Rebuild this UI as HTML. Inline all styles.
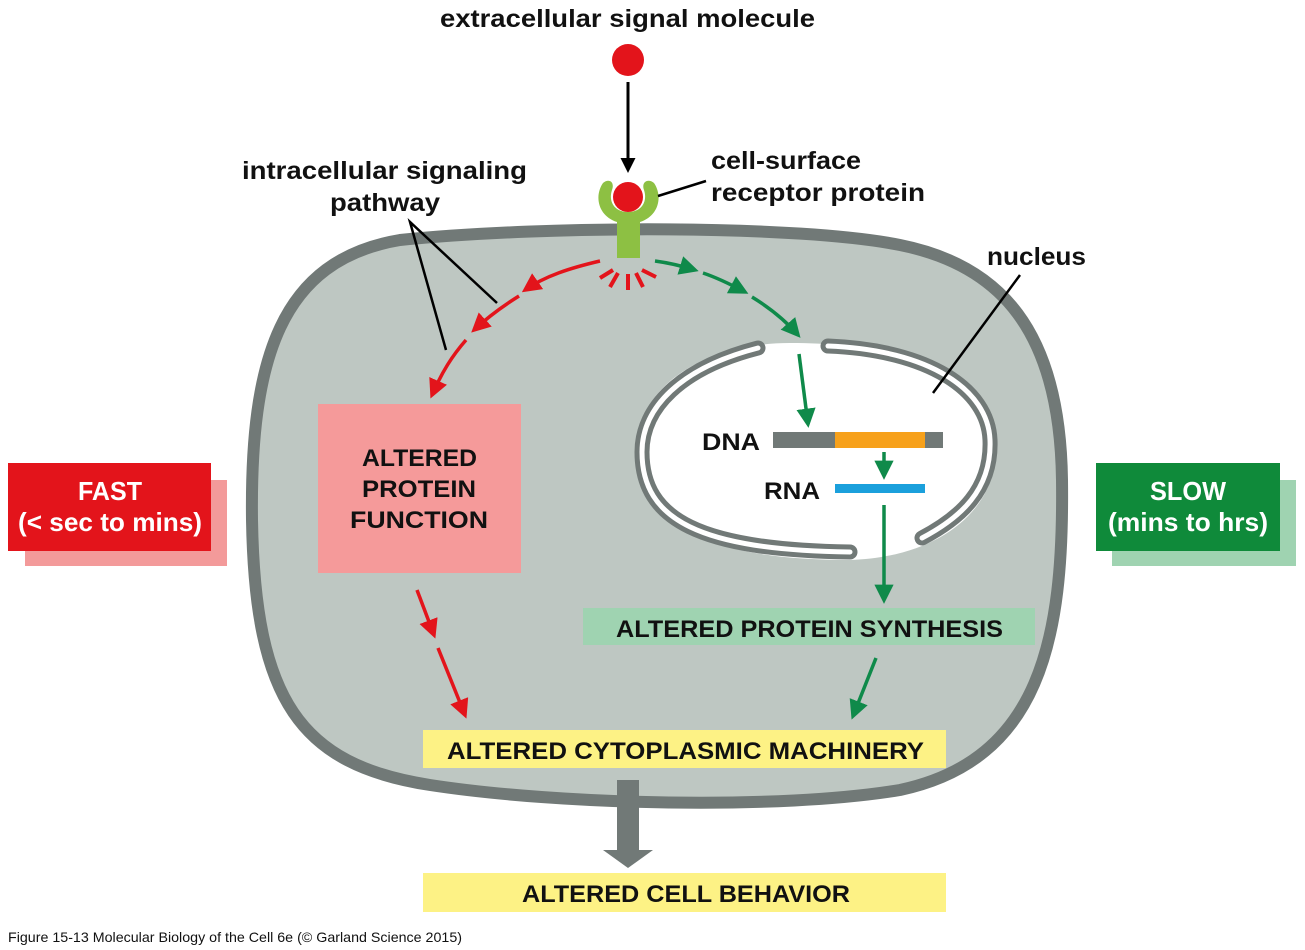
<!DOCTYPE html>
<html><head><style>
body{margin:0;background:#fff;}
svg{display:block;font-family:"Liberation Sans",sans-serif;font-weight:bold;}
</style></head><body>
<svg width="1305" height="950" viewBox="0 0 1305 950">
<defs>
<marker id="ar" viewBox="0 0 10 10" refX="8" refY="5" markerWidth="5.5" markerHeight="5.5" orient="auto"><path d="M0,0 L10,5 L0,10 z" fill="#e3141b"/></marker>
<marker id="ag" viewBox="0 0 10 10" refX="8" refY="5" markerWidth="5.5" markerHeight="5.5" orient="auto"><path d="M0,0 L10,5 L0,10 z" fill="#0f8a4a"/></marker>
<marker id="ak" viewBox="0 0 10 10" refX="8" refY="5" markerWidth="5" markerHeight="5" orient="auto"><path d="M0,0 L10,5 L0,10 z" fill="#000"/></marker>
</defs>
<rect x="25" y="480" width="202" height="86" fill="#f39a9a"/>
<rect x="8" y="463" width="203" height="88" fill="#e3141b"/>
<text x="78" y="500" textLength="64" lengthAdjust="spacingAndGlyphs" font-size="26" fill="#fff">FAST</text>
<text x="18" y="531" textLength="184" lengthAdjust="spacingAndGlyphs" font-size="26" fill="#fff">(&lt; sec to mins)</text>
<rect x="1112" y="480" width="184" height="86" fill="#9fd3b1"/>
<rect x="1096" y="463" width="184" height="88" fill="#0f8a3a"/>
<text x="1150" y="500" textLength="76" lengthAdjust="spacingAndGlyphs" font-size="26" fill="#fff">SLOW</text>
<text x="1108" y="531" textLength="160" lengthAdjust="spacingAndGlyphs" font-size="26" fill="#fff">(mins to hrs)</text>
<path d="M 400,240 C 550,225 800,225 900,245 C 1000,265 1060,330 1062,480 C 1064,640 1040,760 900,790 C 780,810 560,805 430,785 C 300,765 255,700 252,520 C 250,360 280,260 400,240 Z" fill="#bec7c2" stroke="#717977" stroke-width="12"/>
<path d="M 790,343 C 930,343 997,390 997,445 C 997,510 940,557 850,560 C 700,560 636,520 636,450 C 636,390 700,343 790,343 Z" fill="#fff"/>
<g fill="none" stroke-linecap="round">
<path d="M 758,348 C 680,368 642,408 642,452 C 642,520 700,550 850,552" stroke="#717977" stroke-width="15"/>
<path d="M 758,348 C 680,368 642,408 642,452 C 642,520 700,550 850,552" stroke="#fff" stroke-width="5"/>
<path d="M 828,346 C 930,350 988,390 990,440 C 992,490 960,518 922,538" stroke="#717977" stroke-width="15"/>
<path d="M 828,346 C 930,350 988,390 990,440 C 992,490 960,518 922,538" stroke="#fff" stroke-width="5"/>
</g>
<rect x="773" y="432" width="170" height="16" fill="#717977"/>
<rect x="835" y="432" width="90" height="16" fill="#f7a11b"/>
<rect x="835" y="484" width="90" height="9" fill="#1ba0dc"/>
<text x="702" y="450" textLength="58" lengthAdjust="spacingAndGlyphs" font-size="24" fill="#111">DNA</text>
<text x="764" y="499" textLength="56" lengthAdjust="spacingAndGlyphs" font-size="24" fill="#111">RNA</text>
<rect x="318" y="404" width="203" height="169" fill="#f59a9a"/>
<text x="362" y="466" textLength="115" lengthAdjust="spacingAndGlyphs" font-size="24" fill="#111">ALTERED</text>
<text x="362" y="497" textLength="114" lengthAdjust="spacingAndGlyphs" font-size="24" fill="#111">PROTEIN</text>
<text x="350" y="528" textLength="138" lengthAdjust="spacingAndGlyphs" font-size="24" fill="#111">FUNCTION</text>
<rect x="583" y="608" width="452" height="37" fill="#9fd3b1"/>
<text x="616" y="637" textLength="387" lengthAdjust="spacingAndGlyphs" font-size="24" fill="#111">ALTERED PROTEIN SYNTHESIS</text>
<rect x="423" y="730" width="523" height="38" fill="#fdf285"/>
<text x="447" y="759" textLength="477" lengthAdjust="spacingAndGlyphs" font-size="24" fill="#111">ALTERED CYTOPLASMIC MACHINERY</text>
<rect x="423" y="873" width="523" height="39" fill="#fdf285"/>
<text x="522" y="902" textLength="328" lengthAdjust="spacingAndGlyphs" font-size="24" fill="#111">ALTERED CELL BEHAVIOR</text>
<rect x="617" y="780" width="22" height="72" fill="#717977"/>
<path d="M 603,850 L 653,850 L 628,868 Z" fill="#717977"/>
<!-- receptor -->
<path d="M 603,183 C 594,196 598,216 617,222 L 617,258 L 640,258 L 640,222 C 659,216 663,196 654,183 C 648,178 641,182 644,190 C 648,202 641,212 628,212 C 615,212 608,202 612,190 C 615,182 609,178 603,183 Z" fill="#8dc043"/>
<circle cx="628" cy="197" r="15" fill="#e3141b"/>
<circle cx="628" cy="60" r="16" fill="#e3141b"/>
<line x1="628" y1="82" x2="628" y2="170" stroke="#000" stroke-width="3" marker-end="url(#ak)"/>
<line x1="658" y1="196" x2="706" y2="181" stroke="#000" stroke-width="2.5"/>
<g stroke="#e3141b" stroke-width="4">
<line x1="613" y1="270" x2="600" y2="278"/><line x1="618" y1="273" x2="610" y2="287"/>
<line x1="628" y1="274" x2="628" y2="290"/><line x1="636" y1="273" x2="643" y2="287"/>
<line x1="642" y1="270" x2="656" y2="277"/>
</g>
<g fill="none" stroke="#e3141b" stroke-width="3.5">
<path d="M 600,261 C 570,268 545,276 525,290" marker-end="url(#ar)"/>
<path d="M 519,296 C 503,306 489,316 474,330" marker-end="url(#ar)"/>
<path d="M 466,340 C 452,356 442,372 432,395" marker-end="url(#ar)"/>
<path d="M 417,590 L 434,635" marker-end="url(#ar)"/>
<path d="M 438,648 L 465,715" marker-end="url(#ar)"/>
</g>
<g fill="none" stroke="#0f8a4a" stroke-width="3.5">
<path d="M 655,261 C 670,263 682,266 695,270" marker-end="url(#ag)"/>
<path d="M 703,273 C 718,278 730,284 745,292" marker-end="url(#ag)"/>
<path d="M 752,297 C 770,308 785,320 798,335" marker-end="url(#ag)"/>
<path d="M 799,354 L 808,424" marker-end="url(#ag)"/>
<path d="M 884,452 L 884,476" marker-end="url(#ag)"/>
<path d="M 884,505 L 884,600" marker-end="url(#ag)"/>
<path d="M 876,658 L 853,716" marker-end="url(#ag)"/>
</g>
<g stroke="#000" stroke-width="2.5" fill="none">
<path d="M 497,303 L 410,222 L 446,350"/>
<line x1="1020" y1="275" x2="933" y2="393"/>
</g>
<text x="440" y="27" textLength="375" lengthAdjust="spacingAndGlyphs" font-size="25" fill="#111">extracellular signal molecule</text>
<text x="711" y="169" textLength="150" lengthAdjust="spacingAndGlyphs" font-size="25" fill="#111">cell-surface</text>
<text x="711" y="201" textLength="214" lengthAdjust="spacingAndGlyphs" font-size="25" fill="#111">receptor protein</text>
<text x="242" y="179" textLength="285" lengthAdjust="spacingAndGlyphs" font-size="25" fill="#111">intracellular signaling</text>
<text x="330" y="211" textLength="110" lengthAdjust="spacingAndGlyphs" font-size="25" fill="#111">pathway</text>
<text x="987" y="265" textLength="99" lengthAdjust="spacingAndGlyphs" font-size="25" fill="#111">nucleus</text>
<text x="8" y="942" textLength="454" lengthAdjust="spacingAndGlyphs" font-size="14" font-weight="normal" fill="#111">Figure 15-13  Molecular Biology of the Cell 6e (© Garland Science 2015)</text>
</svg>
</body></html>
